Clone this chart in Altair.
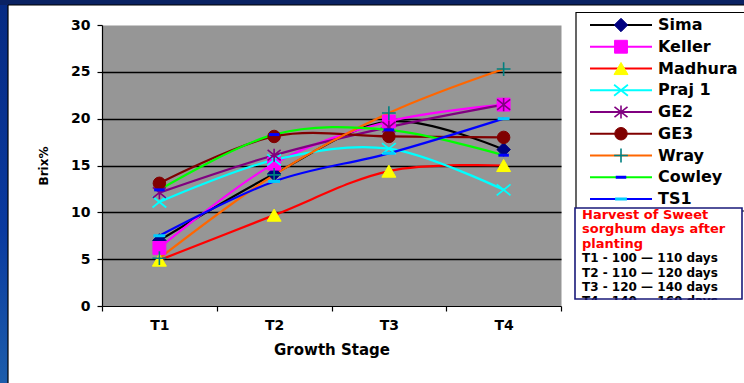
import altair as alt
import pandas as pd

# ---------------- data ----------------
stages = ["T1", "T2", "T3", "T4"]
series_names = ["Sima", "Keller", "Madhura", "Praj 1", "GE2", "GE3", "Wray", "Cowley", "TS1"]

sima = [7.0, 14.1, 19.7, 16.7]
keller = [6.2, 15.2, 19.7, 21.5]
madhura = [4.9, 9.7, 14.4, 15.0]
praj1 = [11.1, 15.6, 16.8, 12.4]
ge2 = [12.1, 16.1, 19.1, 21.5]
ge3 = [13.1, 18.1, 18.1, 18.0]
wray = [5.1, 14.0, 20.6, 25.3]
cowley = [12.4, 18.3, 18.8, 16.1]
ts1 = [7.5, 13.3, 16.3, 20.0]
series_values = [sima, keller, madhura, praj1, ge2, ge3, wray, cowley, ts1]

y_ticks = [0, 5, 10, 15, 20, 25, 30]

note_lines = [
    "Harvest of Sweet",
    "sorghum days after",
    "planting",
    "T1 - 100 \u2014 110 days",
    "T2 - 110 \u2014 120 days",
    "T3 - 120 \u2014 140 days",
    "T4 - 140 \u2014 160 days",
]

# ---------------- styles ----------------
line_colors = ["#000000", "#FF00FF", "#FF0000", "#00FFFF", "#800080",
               "#800000", "#FF6600", "#00FF00", "#0000FF"]
X_PATH = "M-1,-0.8L1,0.8M-1,0.8L1,-0.8"
AST_PATH = "M-1,-0.8L1,0.8M-1,0.8L1,-0.8M0,-1L0,1"
PLUS_PATH = "M-1,0L1,0M0,-1L0,1"
DASH_PATH = "M-1,0L1,0"
marker_shapes = ["diamond", "square", "triangle-up", X_PATH, AST_PATH,
                 "circle", PLUS_PATH, DASH_PATH, DASH_PATH]
marker_fill = ["#000080", "#FF00FF", "#FFFF00", "transparent", "transparent",
               "#800000", "transparent", "transparent", "transparent"]
marker_stroke = ["#000080", "#FF00FF", "#FFFF00", "#00FFFF", "#800080",
                 "#800000", "#008080", "#0000FF", "#00CCFF"]
marker_sw = [1, 1, 1, 1.8, 1.6, 1, 1.6, 3, 3]
marker_size = [180, 165, 196, 190, 170, 156, 190, 110, 140]

FONT = "DejaVu Sans"

rows = []
legend_rows = []
for i, name in enumerate(series_names):
    style = dict(series=name, order=i, lc=line_colors[i], shape=marker_shapes[i],
                 mfill=marker_fill[i], mstroke=marker_stroke[i],
                 msw=marker_sw[i], msize=marker_size[i])
    for j, st in enumerate(stages):
        rows.append(dict(stage=st, pos=j + 1, brix=series_values[i][j], **style))
    legend_rows.append(dict(ly=i * 21.75, **style))
df = pd.DataFrame(rows)
legend_df = pd.DataFrame(legend_rows)
notes_df = pd.DataFrame({
    "text": note_lines,
    "ny": [190 + k * 14.4 for k in range(len(note_lines))],
    "nc": ["#FF0000" if k < 3 else "#000000" for k in range(len(note_lines))],
    "ns": [13 if k < 3 else 12 for k in range(len(note_lines))],
})

W, H = 459, 281

label_expr = "[" + ",".join("'%s'" % s for s in stages) + ",''][floor(datum.value)]"

x_enc = alt.X(
    "pos:Q",
    scale=alt.Scale(domain=[0.5, len(stages) + 0.5], nice=False, zero=False),
    axis=alt.Axis(
        values=[k + 0.5 for k in range(len(stages) + 1)],
        labelExpr=label_expr, labelOffset=W / len(stages) / 2,
        labelFlush=False, labelOverlap=False, grid=False,
        tickSize=5, tickColor="#000000", tickWidth=1.2,
        domainColor="#000000", domainWidth=1.2,
        labelFont=FONT, labelFontWeight="bold", labelFontSize=14,
        labelColor="#000000", labelPadding=7,
        title="Growth Stage", titleFont=FONT, titleFontWeight="bold",
        titleFontSize=15, titleColor="#000000",
        titleX=W / 2, titleY=43, titleBaseline="middle",
    ),
)
y_enc = alt.Y(
    "brix:Q",
    scale=alt.Scale(domain=[0, 30], nice=False),
    axis=alt.Axis(
        values=y_ticks, grid=True, gridColor="#000000", gridWidth=1.3,
        gridOpacity={"condition": {"test": "datum.value >= 30 || datum.value <= 0", "value": 0}, "value": 1},
        tickSize=5, tickColor="#000000", tickWidth=1.2,
        domainColor="#000000", domainWidth=1.2,
        labelFont=FONT, labelFontWeight="bold", labelFontSize=14,
        labelColor="#000000", labelPadding=7,
        title="Brix%", titleFont=FONT, titleFontWeight="bold", titleFontSize=12,
        titleColor="#000000", titleX=-59, titleY=H / 2, titleAngle=270,
        titleAlign="center", titleBaseline="middle",
    ),
)

lines = alt.Chart(df).mark_line(interpolate="cardinal", strokeWidth=2.2).encode(
    x=x_enc, y=y_enc,
    color=alt.Color("lc:N", scale=None),
    detail="series:N",
    order="pos:Q",
)

markers = alt.Chart(df).mark_point(filled=True, opacity=1).encode(
    x=x_enc, y=y_enc,
    shape=alt.Shape("shape:N", scale=None),
    fill=alt.Fill("mfill:N", scale=None),
    stroke=alt.Stroke("mstroke:N", scale=None),
    strokeWidth=alt.StrokeWidth("msw:Q", scale=None),
    size=alt.Size("msize:Q", scale=None),
    order="order:Q",
)

one = alt.Data(values=[{"a": 1}])

# frame decoration
left_strip = alt.Chart(one).mark_rect(
    fill=alt.Gradient(gradient="linear", x1=0, x2=0, y1=0, y2=1,
                      stops=[alt.GradientStop(color="#062a82", offset=0),
                             alt.GradientStop(color="#0a3aa0", offset=0.6),
                             alt.GradientStop(color="#1d5eab", offset=1)])
).encode(x=alt.value(-103), x2=alt.value(-94), y=alt.value(-26), y2=alt.value(360))
top_bar = alt.Chart(one).mark_rect(fill="#0a2263").encode(
    x=alt.value(-103), x2=alt.value(645), y=alt.value(-26), y2=alt.value(-20))
left_line = alt.Chart(one).mark_rule(color="#000000", strokeWidth=1.2).encode(
    x=alt.value(-94), y=alt.value(-20), y2=alt.value(360))
top_line = alt.Chart(one).mark_rule(color="#000000", strokeWidth=1.2).encode(
    x=alt.value(-94), x2=alt.value(645), y=alt.value(-20))

# legend
legend_box = alt.Chart(one).mark_rect(fill="#FFFFFF", stroke="#000000", strokeWidth=1.2).encode(
    x=alt.value(474), x2=alt.value(660), y=alt.value(-12.5), y2=alt.value(186))
ly = alt.Y("ly:Q", scale=None, axis=None)
legend_lines = alt.Chart(legend_df).mark_rule(strokeWidth=2.2).encode(
    x=alt.value(488), x2=alt.value(550), y=ly, color=alt.Color("lc:N", scale=None))
legend_marks = alt.Chart(legend_df).mark_point(filled=True, opacity=1).encode(
    x=alt.value(519), y=ly,
    shape=alt.Shape("shape:N", scale=None),
    fill=alt.Fill("mfill:N", scale=None),
    stroke=alt.Stroke("mstroke:N", scale=None),
    strokeWidth=alt.StrokeWidth("msw:Q", scale=None),
    size=alt.Size("msize:Q", scale=None),
)
legend_text = alt.Chart(legend_df).mark_text(
    align="left", baseline="middle", font=FONT, fontWeight="bold", fontSize=16, color="#000000"
).encode(x=alt.value(556), y=ly, text="series:N")

# note box
note_bg = alt.Chart(one).mark_rect(fill="#FFFFFF").encode(
    x=alt.value(473), x2=alt.value(640), y=alt.value(183), y2=alt.value(274))
note_text = alt.Chart(notes_df).mark_text(
    align="left", baseline="middle", font=FONT, fontWeight="bold"
).encode(x=alt.value(480), y=alt.Y("ny:Q", scale=None, axis=None),
         text="text:N", color=alt.Color("nc:N", scale=None),
         size=alt.Size("ns:Q", scale=None))
note_mask = alt.Chart(one).mark_rect(fill="#FFFFFF").encode(
    x=alt.value(471), x2=alt.value(645), y=alt.value(275), y2=alt.value(300))
note_border = alt.Chart(one).mark_rect(fill="transparent", stroke="#1a1a7a", strokeWidth=1.6).encode(
    x=alt.value(473), x2=alt.value(640), y=alt.value(183), y2=alt.value(274))

chart = alt.layer(
    lines, markers,
    left_strip, top_bar, left_line, top_line,
    legend_box, legend_lines, legend_marks, legend_text,
    note_bg, note_text, note_mask, note_border,
).properties(
    width=W, height=H,
    padding={"left": 102, "top": 25, "right": 744 - 102 - W, "bottom": 383 - 25 - H},
    autosize=alt.AutoSizeParams(type="none"),
    background="#FFFFFF",
).configure_view(fill="#969696", stroke="transparent")

chart.save("out.html", embed_options={"renderer": "svg", "actions": False})
